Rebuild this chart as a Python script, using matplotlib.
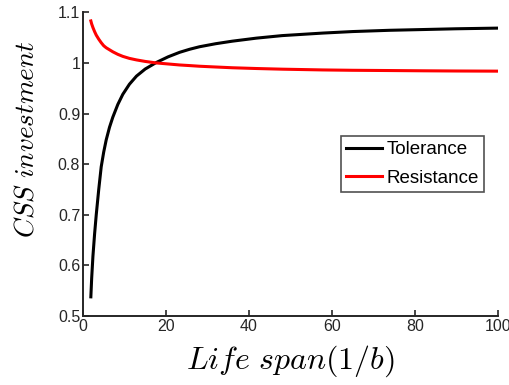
import matplotlib
matplotlib.use('Agg')
import matplotlib.pyplot as plt
from matplotlib.ticker import FuncFormatter

plt.rcParams['font.family'] = ['Liberation Sans', 'DejaVu Sans']
plt.rcParams['mathtext.fontset'] = 'cm'

# values
life_span = [1.9, 2.1, 2.4, 2.8, 3.2, 3.8, 4.4, 5.0, 5.6, 6.4, 7.2, 8.4, 9.6, 11.2,
             12.9, 15.0, 17.7, 20.5, 23.3, 25.7, 28.1, 32.0, 36.0, 41.8, 48.0,
             57.8, 65.0, 73.9, 82.0, 90.0, 100.0]
tolerance = [0.538, 0.575, 0.618, 0.662, 0.700, 0.750, 0.795, 0.824, 0.848, 0.873,
             0.893, 0.918, 0.938, 0.958, 0.974, 0.988, 1.001, 1.012, 1.021, 1.027,
             1.032, 1.038, 1.043, 1.049, 1.054, 1.059, 1.062, 1.0645, 1.066, 1.0675,
             1.0688]
resistance = [1.083, 1.077, 1.070, 1.062, 1.055, 1.047, 1.040, 1.034, 1.030, 1.026,
              1.022, 1.017, 1.013, 1.009, 1.006, 1.003, 1.000, 0.998, 0.996, 0.9948,
              0.9935, 0.992, 0.9905, 0.989, 0.9877, 0.9862, 0.9855, 0.985, 0.9845,
              0.9841, 0.9838]

fig = plt.figure(figsize=(5.09, 3.85), dpi=100)
ax = fig.add_axes([0.163, 0.179, 0.815, 0.789])

ax.plot(life_span, tolerance, color='black', linewidth=2.2, label='Tolerance')
ax.plot(life_span, resistance, color='red', linewidth=2.2, label='Resistance')

ax.set_xlim(0, 100)
ax.set_ylim(0.5, 1.1)
ax.set_xticks(range(0, 101, 20))
ax.set_yticks([0.5, 0.6, 0.7, 0.8, 0.9, 1.0, 1.1])
ax.yaxis.set_major_formatter(FuncFormatter(lambda v, p: '%g' % round(v, 2)))

for s in ['top', 'right']:
    ax.spines[s].set_visible(False)
for s in ['left', 'bottom']:
    ax.spines[s].set_linewidth(1.4)
    ax.spines[s].set_color('#262626')
ax.tick_params(direction='in', length=4, width=1.2, colors='#262626',
               labelsize=11.5, pad=2)

ax.set_xlabel(r'$Life\ span(1/b)$', fontsize=23)
ax.xaxis.set_label_coords(0.5, -0.09)
ax.set_ylabel(r'$CSS\ investment$', fontsize=19.5)
ax.yaxis.set_label_coords(-0.105, 0.582)

leg = ax.legend(loc='upper left', bbox_to_anchor=(0.623, 0.592), fontsize=13.5,
                frameon=True, fancybox=False, borderpad=0.25, labelspacing=0.62,
                handlelength=1.9, handletextpad=0.27, borderaxespad=0)
leg.get_frame().set_edgecolor('#262626')
leg.get_frame().set_linewidth(1.2)

fig.savefig('out.png', dpi=100)
